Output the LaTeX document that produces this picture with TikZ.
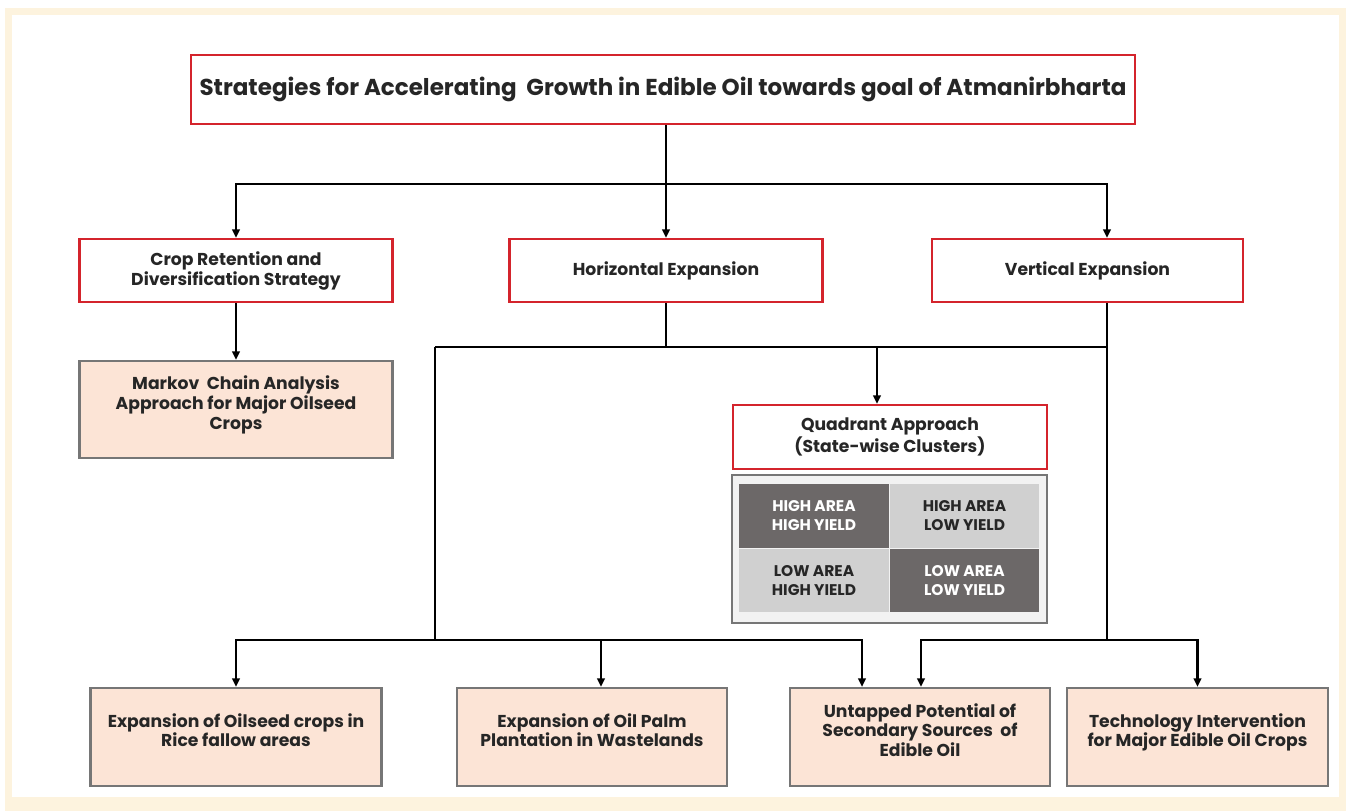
\documentclass[tikz,border=0pt]{standalone}
\usepackage{fontspec}
\setmainfont{Poppins}
\usepackage{tikz}
\usetikzlibrary{arrows.meta,positioning}

\definecolor{boxred}{RGB}{212,36,44}
\definecolor{peach}{RGB}{252,228,214}
\definecolor{peachline}{RGB}{118,118,118}
\definecolor{cream}{RGB}{253,243,222}
\definecolor{darkcell}{RGB}{108,104,104}
\definecolor{lightcell}{RGB}{208,208,208}
\definecolor{inktext}{RGB}{38,38,38}

\begin{document}
\begin{tikzpicture}[x=0.02cm,y=-0.02cm,
    redbox/.style={draw=boxred,line width=1.3pt,fill=white,align=center,
        text=inktext,font=\fontsize{9.8}{11.4}\selectfont\bfseries},
    peachbox/.style={draw=peachline,line width=1.2pt,fill=peach,align=center,
        text=inktext,font=\fontsize{9.8}{11.2}\selectfont\bfseries,text depth=0.28cm},
    cell/.style={minimum width=3cm,minimum height=1.28cm,inner sep=0pt,align=center,
        font=\fontsize{8.8}{10.8}\selectfont\bfseries},
    conn/.style={line width=1.3pt,black},
    arr/.style={conn,-{Triangle[length=0.17cm,width=0.15cm]}}]
            % background frame
            \useasboundingbox (0,0) rectangle (1346,811);
            \fill[cream] (5,8) rectangle (1346,811);
            \fill[white] (12,15) rectangle (1339,797);

            % top level
            \node[redbox,minimum width=18.88cm,minimum height=1.38cm,
                font=\fontsize{13.1}{15}\selectfont\bfseries] (title) at (663,89.5)
                {Strategies for Accelerating\ \ Growth in Edible Oil towards goal of Atmanirbharta};
            \node[redbox,minimum width=6.26cm,minimum height=1.26cm] (crop) at (236,270.5)
                {Crop Retention and\\Diversification Strategy};
            \node[redbox,minimum width=6.26cm,minimum height=1.26cm] (horiz) at (666,270.5)
                {Horizontal Expansion};
            \node[redbox,minimum width=6.22cm,minimum height=1.26cm] (vert) at (1087.5,270.5)
                {Vertical Expansion};

            % middle level
            \node[peachbox,minimum width=6.26cm,minimum height=1.94cm] (markov) at (236,409.5)
                {Markov\ \ Chain Analysis\\Approach for Major Oilseed\\Crops};
            \node[redbox,minimum width=6.28cm,minimum height=1.28cm] (quad) at (890,437)
                {Quadrant Approach\\(State-wise Clusters)};

            % quadrant grid
            \node[draw=peachline,line width=1.2pt,fill=white!95!black,
                minimum width=6.3cm,minimum height=2.96cm] (grid) at (889.5,549) {};
            \node[cell,fill=darkcell,text=white] (hahy) at (814,516) {HIGH AREA\\HIGH YIELD};
            \node[cell,fill=lightcell,text=inktext] (haly) at (964.5,516) {HIGH AREA\\LOW YIELD};
            \node[cell,fill=lightcell,text=inktext] (lahy) at (814,580.5) {LOW AREA\\HIGH YIELD};
            \node[cell,fill=darkcell,text=white] (laly) at (964.5,580.5) {LOW AREA\\LOW YIELD};

            % bottom level
            \node[peachbox,minimum width=5.82cm,minimum height=1.96cm] (rice) at (236,737)
                {Expansion of Oilseed crops in\\Rice fallow areas};
            \node[peachbox,minimum width=5.4cm,minimum height=1.96cm] (palm) at (592,737)
                {Expansion of Oil Palm\\Plantation in Wastelands};
            \node[peachbox,minimum width=5.2cm,minimum height=1.96cm] (untap) at (920,737)
                {Untapped Potential of\\Secondary Sources\ \ of\\Edible Oil};
            \node[peachbox,minimum width=5.22cm,minimum height=1.96cm] (tech) at (1197.5,737)
                {Technology Intervention\\for Major Edible Oil Crops};

            % junctions
            \coordinate (jtop) at (666,184);
            \coordinate (jmid) at (666,347);
            \coordinate (jleft) at (435,347);
            \coordinate (qin) at (877,347);
            \coordinate (lbus) at (435,640);
            \coordinate (vbus) at (1107,640);

            % connectors
            \draw[conn] (title.south -| jtop) -- (jtop);
            \draw[arr] (jtop) -| (crop.north);
            \draw[arr] (jtop) -- (horiz.north);
            \draw[arr] (jtop) -| (vert.north -| vbus);
            \draw[arr] (crop.south) -- (markov.north);
            \draw[conn] (horiz.south) -- (jmid);
            \draw[conn] (jleft) -- (jleft -| vbus);
            \draw[conn] (vert.south -| vbus) -- (vbus);
            \draw[arr] (qin) -- (qin |- quad.north);
            \draw[conn] (jleft) -- (lbus);
            \draw[arr] (lbus) -| (rice.north);
            \draw[arr] (lbus) -| ([xshift=0.18cm]palm.north);
            \draw[arr] (lbus) -| ([xshift=-1.16cm]untap.north);
            \draw[arr] (vbus) -| ([xshift=0.02cm]untap.north);
            \draw[arr] (vbus) -| (tech.north);
        \end{tikzpicture}
\end{document}
